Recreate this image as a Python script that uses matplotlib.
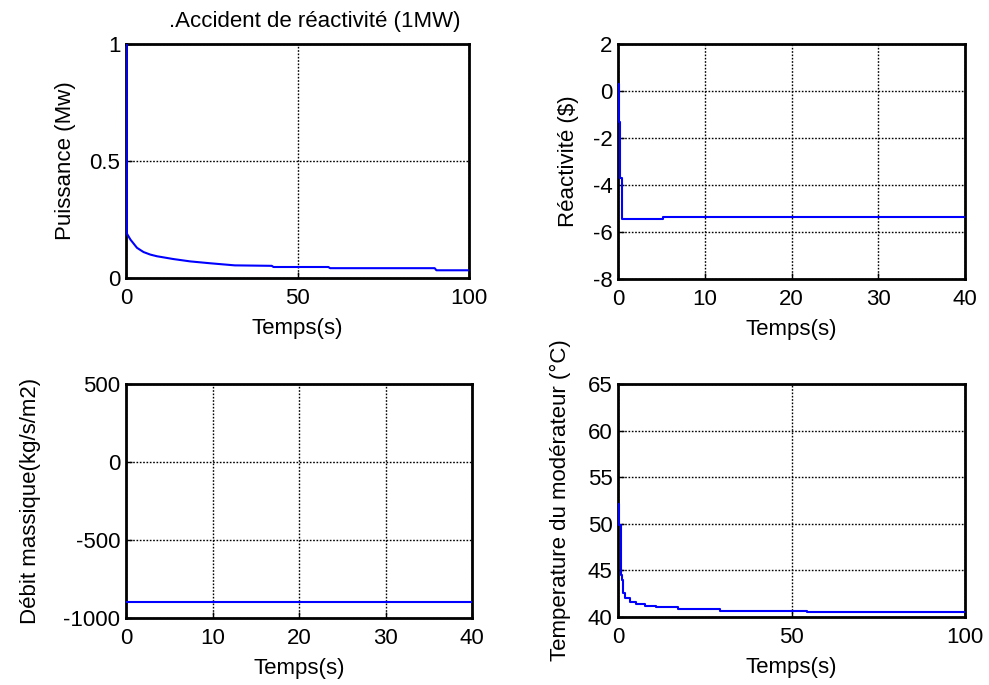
import matplotlib
matplotlib.use("Agg")
import matplotlib.pyplot as plt

plt.rcParams['font.family'] = ['Liberation Sans', 'DejaVu Sans']
plt.rcParams['font.size'] = 16
plt.rcParams['axes.unicode_minus'] = False

# Puissance (MW) vs time
p_t = [0, 0.2, 0.25, 1.3, 3.2, 5.1, 7.1, 9.0, 13.8, 18.7, 24.5, 31.7, 42.5, 43.0, 59.0, 59.5, 90.0, 90.5, 100]
p_v = [1.0, 1.0, 0.19, 0.164, 0.129, 0.111, 0.10, 0.093, 0.081, 0.071, 0.063, 0.054, 0.052, 0.047, 0.047, 0.042, 0.042, 0.033, 0.033]

# Réactivité ($)
r_t = [0, 0.08, 0.27, 0.47, 5.2, 40]
r_v = [0.28, -1.3, -3.7, -5.45, -5.38, -5.38]

# Débit massique
d_t = [0, 40]
d_v = [-900, -900]

# Température du modérateur (°C)
T_t = [0, 0.3, 0.8, 1.2, 1.5, 2.0, 3.4, 5.3, 7.7, 11.0, 17.4, 29.5, 54.6, 100]
T_v = [52.1, 49.9, 44.5, 44.0, 42.6, 42.0, 41.6, 41.4, 41.2, 41.07, 40.85, 40.68, 40.5, 40.5]

W, H = 989, 685
fig = plt.figure(figsize=(W / 100, H / 100), dpi=100)

def add_ax(l, r, t, b):
    return fig.add_axes([l / W, 1 - b / H, (r - l) / W, (b - t) / H])

def style(ax):
    for s in ax.spines.values():
        s.set_linewidth(2)
    ax.grid(True, color='black', linestyle=(0, (1.2, 1.2)), linewidth=1.0)
    ax.tick_params(direction='in', length=4, width=1, labelsize=16)
    ax.tick_params(axis='x', pad=7)
    ax.tick_params(axis='y', pad=4)
    ax.set_xlabel('Temps(s)', fontsize=16, labelpad=6.5)

blue = '#0000ff'
YPAD = 10

ax1 = add_ax(126, 469, 44, 278)
ax1.plot(p_t, p_v, color=blue, lw=1.5, zorder=3)
ax1.set_xlim(0, 100); ax1.set_ylim(0, 1)
ax1.set_xticks([0, 50, 100]); ax1.set_yticks([0, 0.5, 1])
ax1.set_yticklabels(['0', '0.5', '1'])
ax1.set_ylabel('Puissance (Mw)', fontsize=16, labelpad=YPAD)
ax1.set_title('.Accident de réactivité (1MW)', fontsize=16, pad=12, x=0.55)
style(ax1)

ax2 = add_ax(618, 965, 44, 279)
ax2.plot(r_t, r_v, color=blue, lw=1.5, drawstyle='steps-post', zorder=3)
ax2.set_xlim(0, 40); ax2.set_ylim(-8, 2)
ax2.set_xticks([0, 10, 20, 30, 40]); ax2.set_yticks([-8, -6, -4, -2, 0, 2])
ax2.set_ylabel('Réactivité ($)', fontsize=16, labelpad=YPAD)
style(ax2)

ax3 = add_ax(126, 472, 384, 618)
ax3.plot(d_t, d_v, color=blue, lw=1.5, zorder=3)
ax3.set_xlim(0, 40); ax3.set_ylim(-1000, 500)
ax3.set_xticks([0, 10, 20, 30, 40]); ax3.set_yticks([-1000, -500, 0, 500])
ax3.set_ylabel('Débit massique(kg/s/m2)', fontsize=16, labelpad=YPAD + 6)
style(ax3)

ax4 = add_ax(618, 965, 384, 617)
ax4.plot(T_t, T_v, color=blue, lw=1.5, drawstyle='steps-post', zorder=3)
ax4.set_xlim(0, 100); ax4.set_ylim(40, 65)
ax4.set_xticks([0, 50, 100]); ax4.set_yticks([40, 45, 50, 55, 60, 65])
ax4.set_ylabel('Temperature du modérateur (°C)', fontsize=16, labelpad=YPAD + 2)
style(ax4)

fig.savefig('out.png', dpi=100)
